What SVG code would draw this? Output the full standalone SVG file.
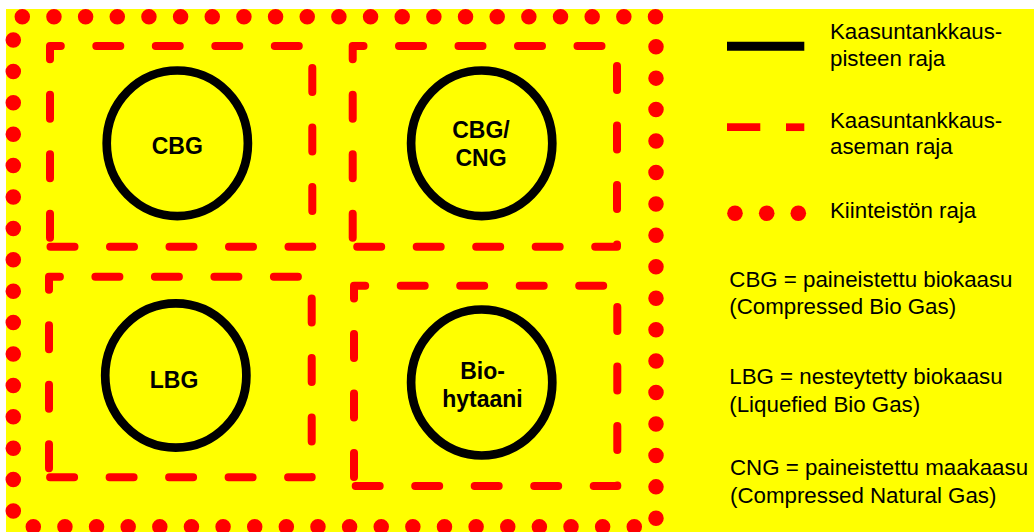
<svg xmlns="http://www.w3.org/2000/svg" width="1034" height="532" viewBox="0 0 1034 532">
<style>
.dots{fill:none;stroke:#FF0000;stroke-width:15.5;stroke-linecap:round;}
.station{fill:none;stroke:#FF0000;stroke-width:8;stroke-linecap:round;stroke-linejoin:round;stroke-dasharray:24 35.5;stroke-dashoffset:50.5;}
.point{fill:none;stroke:#000000;stroke-width:8.7;}
.lbl{font-family:"Liberation Sans",Arial,sans-serif;font-weight:bold;font-size:23px;fill:#000;text-anchor:middle;}
.leg{font-family:"Liberation Sans",Arial,sans-serif;font-size:22.3px;fill:#000;}
</style>
<rect x="0" y="0" width="1034" height="532" fill="#FFFFFF"/>
<rect x="6" y="9" width="1028" height="523" fill="#FFFF00"/>

<g id="property-boundary">
<line class="dots" x1="22.3" y1="16.7" x2="655.6" y2="16.7" stroke-dasharray="0 31.66"/>
<line class="dots" x1="656" y1="46.7" x2="656" y2="518.8" stroke-dasharray="0 31.44"/>
<line class="dots" x1="33.3" y1="526.7" x2="634.8" y2="526.7" stroke-dasharray="0 31.63"/>
<line class="dots" x1="13.3" y1="40" x2="13.3" y2="511.5" stroke-dasharray="0 31.4"/>
</g>

<g id="stations">
<path id="station-cbg" class="station" d="M50,246.7 V46 H312.3 V246.7 H50"/>
<path id="station-cbg-cng" class="station" d="M352.7,246.7 V46 H617 V246.7 H352.7"/>
<path id="station-lbg" class="station" d="M49,477.3 V276.7 H311.7 V477.3 H49"/>
<path id="station-biohytaani" class="station" d="M354,486 V285.7 H617.3 V486 H354"/>
</g>

<g id="node-cbg">
<ellipse class="point" cx="177.3" cy="143.3" rx="70.6" ry="72.8"/>
<text class="lbl" x="177.3" y="153.5">CBG</text>
</g>
<g id="node-cbg-cng">
<ellipse class="point" cx="481.7" cy="143.3" rx="70.6" ry="72.8"/>
<text class="lbl" x="481" y="137.7">CBG/</text>
<text class="lbl" x="481" y="166">CNG</text>
</g>
<g id="node-lbg">
<ellipse class="point" cx="175.8" cy="375.5" rx="70.6" ry="72.2"/>
<text class="lbl" x="174" y="388.3">LBG</text>
</g>
<g id="node-biohytaani">
<ellipse class="point" cx="481.7" cy="382.5" rx="70.6" ry="73"/>
<text class="lbl" x="482.5" y="379">Bio-</text>
<text class="lbl" x="482.5" y="406.7">hytaani</text>
</g>

<g id="legend">
<line x1="727" y1="46.2" x2="804.3" y2="46.2" stroke="#000" stroke-width="9"/>
<text class="leg" x="830" y="39">Kaasuntankkaus-</text>
<text class="leg" x="830" y="65.7">pisteen raja</text>
<line x1="727" y1="127.2" x2="760.3" y2="127.2" stroke="#FF0000" stroke-width="7.7"/>
<line x1="786" y1="127.2" x2="804.3" y2="127.2" stroke="#FF0000" stroke-width="7.7"/>
<text class="leg" x="830" y="127.7">Kaasuntankkaus-</text>
<text class="leg" x="830" y="154.3">aseman raja</text>
<circle cx="735" cy="213.3" r="7.8" fill="#FF0000"/>
<circle cx="766.7" cy="213.3" r="7.8" fill="#FF0000"/>
<circle cx="798.3" cy="213.3" r="7.8" fill="#FF0000"/>
<text class="leg" x="830" y="218.3">Kiinteistön raja</text>
<text class="leg" x="729.3" y="287.3">CBG = paineistettu biokaasu</text>
<text class="leg" x="729.3" y="314.3">(Compressed Bio Gas)</text>
<text class="leg" x="729.3" y="384">LBG = nesteytetty biokaasu</text>
<text class="leg" x="729.3" y="411.7">(Liquefied Bio Gas)</text>
<text class="leg" x="730" y="475">CNG = paineistettu maakaasu</text>
<text class="leg" x="730" y="502.7">(Compressed Natural Gas)</text>
</g>
</svg>
